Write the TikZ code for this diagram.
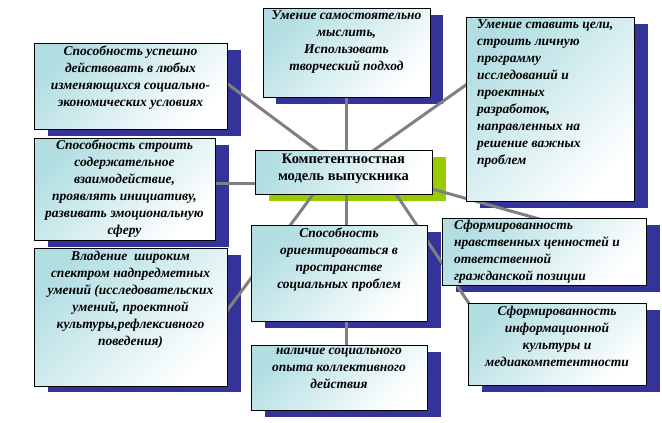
\documentclass[tikz,border=0pt]{standalone}
\usepackage{fontspec}
\setmainfont{Liberation Serif}
\begin{document}
\begin{tikzpicture}[x=1pt,y=-1pt,
  sh/.style={fill={rgb,255:red,51;green,51;blue,153}},
  shg/.style={fill={rgb,255:red,153;green,204;blue,0}},
  bx/.style={draw=black,line width=0.8pt,top color={rgb,255:red,178;green,222;blue,226},bottom color=white,shading=axis,shading angle=45},
  ln/.style={draw={rgb,255:red,128;green,128;blue,128},line width=3pt},
  tx/.style={font=\bfseries\itshape\fontsize{13.5}{17}\selectfont,inner sep=0pt,anchor=north,align=center}]
\useasboundingbox (0,0) rectangle (662,423);
% shadows
\fill[sh] (48,50) rectangle (241,136);
\fill[sh] (276,15) rectangle (443,104);
\fill[sh] (480,24) rectangle (648,208);
\fill[sh] (48,145) rectangle (229,247);
\fill[shg] (269,157) rectangle (446,201);
\fill[sh] (265,232) rectangle (441,328);
\fill[sh] (456,225) rectangle (660,292);
\fill[sh] (48,255) rectangle (241,392);
\fill[sh] (482,310) rectangle (660,392);
\fill[sh] (265,352) rectangle (441,417);
% connector coordinates
\coordinate (c1) at (330,160); \coordinate (e1) at (225,82);
\coordinate (c2) at (346,160); \coordinate (e2) at (346,90);
\coordinate (c3) at (360,160); \coordinate (e3) at (480,75);
\coordinate (c4) at (300,183); \coordinate (e4) at (210,183);
\coordinate (c5) at (400,180); \coordinate (e5) at (550,222);
\coordinate (c6) at (390,185); \coordinate (e6) at (480,320);
\coordinate (c7) at (320,185); \coordinate (e7) at (215,327);
\coordinate (c8) at (346,185); \coordinate (e8) at (346,235);
\coordinate (c9) at (346,310); \coordinate (e9) at (346,355);
\foreach \i in {1,...,9} \draw[ln] (c\i) -- (e\i);
% boxes
\path[bx] (34,43) rectangle (227,129);
\path[bx] (263,8) rectangle (430,97);
\path[bx] (466,17) rectangle (634,201);
\path[bx] (34,138) rectangle (215,240);
\path[bx,shading angle=70] (255,150) rectangle (432,194);
\path[bx] (251,225) rectangle (427,321);
\path[bx] (442,218) rectangle (646,285);
\path[bx] (34,248) rectangle (227,386);
\path[bx] (468,303) rectangle (646,385);
\path[bx] (251,345) rectangle (427,410);
% texts
\node[tx] (t1) at (130.5,46) {Способность успешно\\действовать в любых\\изменяющихся социально-\\экономических условиях};
\node[tx] (t2) at (346.5,10) {Умение самостоятельно\\мыслить,\\Использовать\\творческий подход};
\node[tx,anchor=north west,align=left] (t3) at (477,19) {Умение ставить цели,\\строить личную\\программу\\исследований и\\проектных\\разработок,\\направленных на\\решение важных\\проблем};
\node[tx] (t4) at (124.5,140) {Способность строить\\содержательное\\взаимодействие,\\проявлять инициативу,\\развивать эмоциональную\\сферу};
\node[tx,font=\bfseries\fontsize{14.5}{17}\selectfont] (t5) at (343.5,154) {Компетентностная\\модель выпускника};
\node[tx] (t6) at (339,228) {Способность\\ориентироваться в\\пространстве\\социальных проблем};
\node[tx,anchor=north west,align=left] (t7) at (454,220) {Сформированность\\нравственных ценностей и\\ответственной\\гражданской позиции};
\node[tx] (t8) at (130.5,251) {Владение\ \ широким\\спектром надпредметных\\умений (исследовательских\\умений, проектной\\культуры,рефлексивного\\поведения)};
\node[tx] (t9) at (557,306) {Сформированность\\информационной\\культуры и\\медиакомпетентности};
\node[tx] (t10) at (339,348) {наличие социального\\опыта коллективного\\действия};
\end{tikzpicture}
\end{document}
